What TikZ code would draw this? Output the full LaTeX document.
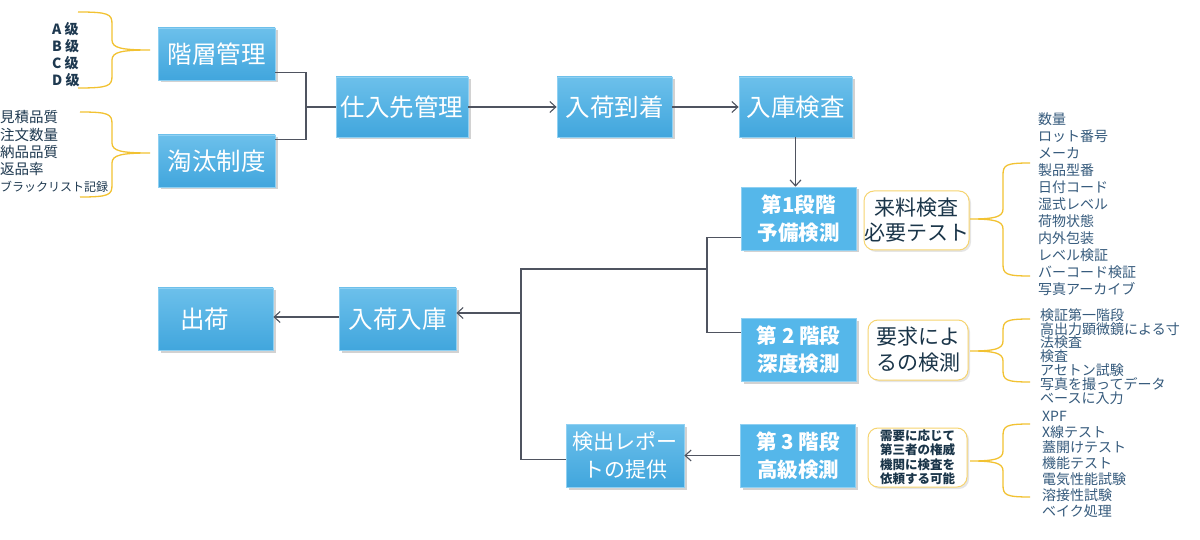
\documentclass[tikz,border=0pt]{standalone}
\usepackage{fontspec}
\setmainfont{Noto Sans CJK JP}
\usetikzlibrary{arrows.meta,shadows,calc}
\definecolor{boxtop}{HTML}{6CC0EB}
\definecolor{boxbot}{HTML}{41A6DD}
\definecolor{boxedge}{HTML}{8FD0F2}
\definecolor{stagefill}{HTML}{55B7EA}
\definecolor{linecol}{HTML}{4F5460}
\definecolor{bracecol}{HTML}{F2C232}
\definecolor{anntext}{HTML}{1A3549}
\definecolor{listcol}{HTML}{355A7C}
\definecolor{leftcol}{HTML}{1E3950}
\tikzset{
  mainbox/.style={draw=boxedge, line width=0.8pt, top color=boxtop, bottom color=boxbot,
    text=white, inner sep=0pt, align=center,
    drop shadow={opacity=0.35, shadow xshift=2.5pt, shadow yshift=-2.5pt}},
  stagebox/.style={draw=boxedge, line width=0.6pt, fill=stagefill, text=white, inner sep=0pt,
    align=center, font=\fontsize{20.5}{28}\selectfont\bfseries,
    minimum width=115pt, minimum height=63pt,
    drop shadow={opacity=0.35, shadow xshift=2.5pt, shadow yshift=-2.5pt}},
  annbox/.style={draw=bracecol!70, line width=1pt, rounded corners=10pt, fill=white,
    text=anntext, inner sep=0pt, align=center,
    drop shadow={opacity=0.2, shadow xshift=2pt, shadow yshift=-2pt}},
  conn/.style={draw=linecol, line width=1.1pt},
  arr/.style={conn, -{Straight Barb[length=6pt,width=11pt,line width=1.1pt]}},
  bracestyle/.style={draw=bracecol, line width=1.3pt},
  listtext/.style={text=listcol, anchor=west, inner sep=0pt, font=\fontsize{14}{14}\selectfont},
  lefttext/.style={text=leftcol, anchor=west, inner sep=0pt, font=\fontsize{14.5}{14.5}\selectfont},
  bigtext/.style={font=\fontsize{24.5}{28}\selectfont}
}
\newcommand\mybrace[6]{%
  \draw[bracestyle] (#1,#4) .. controls ({#1+0.9*(#2-#1)},#4) and (#2,{#4+2}) .. (#2,{#4+12})
    -- (#2,{#5-10}) .. controls (#2,{#5-2}) and ({#2+0.25*(#3-#2)},#5) .. (#3,#5)
    .. controls ({#2+0.25*(#3-#2)},#5) and (#2,{#5+2}) .. (#2,{#5+10})
    -- (#2,{#6-12}) .. controls (#2,{#6-2}) and ({#1+0.9*(#2-#1)},#6) .. (#1,#6);}
\begin{document}
\begin{tikzpicture}[x=1pt,y=-1pt]
\useasboundingbox[fill=white] (0,0) rectangle (1200,540);

% main boxes
\node[mainbox, bigtext, minimum width=117pt, minimum height=52pt] (kaiso) at (216.5,54) {階層管理};
\node[mainbox, bigtext, minimum width=117pt, minimum height=52pt] (touta) at (216.5,161) {淘汰制度};
\node[mainbox, bigtext, minimum width=132pt, minimum height=60pt] (shiire) at (402,107) {仕入先管理};
\node[mainbox, bigtext, minimum width=115pt, minimum height=60pt] (nyuka) at (614.5,107) {入荷到着};
\node[mainbox, bigtext, minimum width=113pt, minimum height=60pt] (nyuko) at (795.5,107) {入庫検査};
\node[mainbox, bigtext, minimum width=117pt, minimum height=62pt] (nyuko2) at (397.5,319) {入荷入庫};
\node[mainbox, bigtext, minimum width=115pt, minimum height=62pt] (shukka) at (215.5,319) {\hspace*{-22pt}出荷};
\node[mainbox, minimum width=118pt, minimum height=63pt, font=\fontsize{21}{28}\selectfont] (report) at (625,455.5) {検出レポー\\トの提供};

% stage boxes
\node[stagebox] (st1) at (798.5,218.5) {第1段階\\予備検測};
\node[stagebox] (st2) at (798.5,349.5) {第 2 階段\\深度検測};
\node[stagebox] (st3) at (798,455.5) {第 3 階段\\高級検測};

% annotation boxes
\node[annbox, minimum width=97pt, minimum height=59pt, font=\fontsize{21}{25}\selectfont] (ann1) at (916.5,220.5) {来料検査\\必要テスト};
\node[annbox, minimum width=100pt, minimum height=60pt, font=\fontsize{21}{26}\selectfont] (ann2) at (918,350) {要求によ\\るの検測};
\node[annbox, minimum width=99pt, minimum height=59pt, font=\fontsize{12.5}{14.5}\selectfont\bfseries] (ann3) at (917.5,457.5) {需要に応じて\\第三者の権威\\機関に検査を\\依頼する可能};

% connectors
\coordinate (j1) at (306,107);
\draw[conn] ($(kaiso.south east)+(0,-8)$) -| (j1) |- ($(touta.north east)+(0,5)$);
\draw[conn] (j1) -- (shiire.west);
\draw[arr] (shiire.east) -- (nyuka.west);
\draw[arr] (nyuka.east) -- (nyuko.west);
\draw[arr] (nyuko.south) -- (nyuko.south |- st1.north);

\coordinate (j2) at (707,269);
\coordinate (j3) at (521,269);
\coordinate (j4) at (521,313);
\draw[conn] ($(st1.south west)+(0,-13)$) -| (j2) |- ($(st2.north west)+(0,15)$);
\draw[conn] (j2) -- (j3) |- ($(report.west)+(0,4)$);
\draw[arr] (j4) -- (nyuko2.east |- j4);
\draw[arr] ($(nyuko2.west)+(0,-2)$) -- ($(shukka.east)+(0,-2)$);
\draw[arr] (st3.west) -- (report.east);

% braces
\mybrace{78}{112}{150}{12}{50}{88}
\mybrace{80}{112}{150}{112}{153}{197}
\mybrace{1030}{1003}{970}{163}{219}{276}
\mybrace{1030}{1003}{970}{319}{351}{382}
\mybrace{1030}{1003}{970}{424}{461}{497}

% left lists
\foreach \t [count=\i] in {A 级,B 级,C 级,D 级}
  \node[lefttext, font=\fontsize{14}{14}\selectfont\bfseries] (la\i) at (52,{29.5+17*(\i-1)}) {\t};
\foreach \t [count=\i] in {見積品質,注文数量,納品品質,返品率}
  \node[lefttext] (lb\i) at (0,{117.5+17.3*(\i-1)}) {\t};
\node[lefttext, font=\fontsize{12}{12}\selectfont] (lb5) at (0,187) {ブラックリスト記録};

% right lists
\foreach \t [count=\i] in {数量,ロット番号,メーカ,製品型番,日付コード,湿式レベル,荷物状態,内外包装,レベル検証,バーコード検証,写真アーカイブ}
  \node[listtext] (ra\i) at (1038,{119+17*(\i-1)}) {\t};
\foreach \t [count=\i] in {検証第一階段,高出力顕微鏡による寸,法検査,検査,アセトン試験,写真を撮ってデータ,ベースに入力}
  \node[listtext] (rb\i) at (1040,{315+13.8*(\i-1)}) {\t};
\foreach \t [count=\i] in {XPF,X線テスト,蓋開けテスト,機能テスト,電気性能試験,溶接性試験,ベイク処理}
  \node[listtext] (rc\i) at (1042,{416+15.8*(\i-1)}) {\t};
\end{tikzpicture}
\end{document}
